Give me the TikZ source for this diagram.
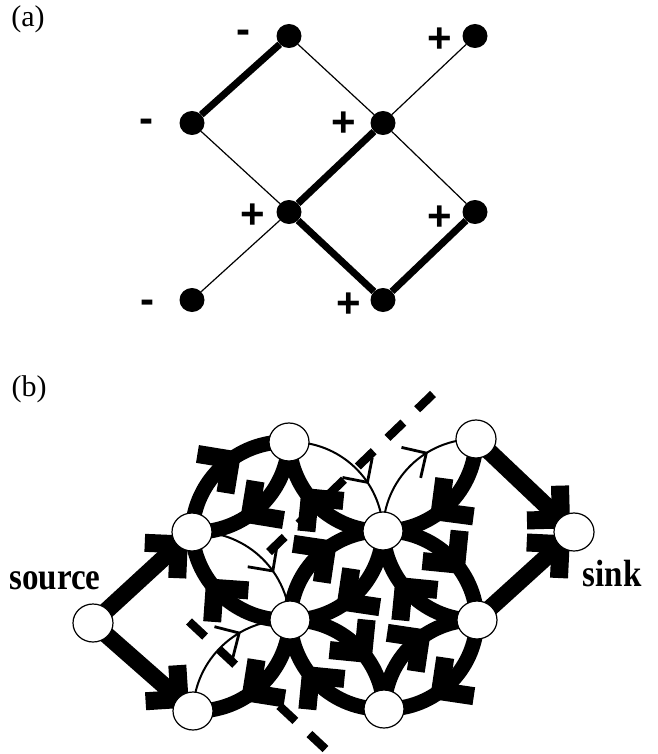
\documentclass[tikz,border=0pt]{standalone}
\usepackage{fontspec}
\usepackage{graphicx}
\setmainfont{Liberation Serif}
\newfontfamily\signfont{Liberation Sans}
\usetikzlibrary{decorations.markings,shapes.geometric}
\pgfdeclarelayer{bg}
\pgfsetlayers{bg,main}
\newcommand{\flowhead}{\draw[line width=18pt, line join=miter, line cap=butt] (-24pt,24pt) -- (0pt,0pt) -- (-24pt,-24pt);}
\newcommand{\thinhead}{\draw[line width=2.8pt, line join=miter, line cap=butt] (-18pt,18pt) -- (0pt,0pt) -- (-18pt,-18pt);}
\tikzset{
  adot/.style={ellipse, fill=black, minimum width=25pt, minimum height=24pt, inner sep=0pt},
  bnode/.style={ellipse, draw=black, line width=1.2pt, fill=white, minimum width=40pt, minimum height=38pt, inner sep=0pt},
  athick/.style={line width=7pt},
  athin/.style={line width=1.2pt},
  sign/.style={font=\signfont\bfseries\fontsize{42}{42}\selectfont, inner sep=0pt, anchor=base},
  lbl/.style={font=\bfseries\fontsize{33}{33}\selectfont, inner sep=0pt, anchor=base},
  plabel/.style={font=\fontsize{30}{30}\selectfont, inner sep=0pt},
  cutline/.style={line width=8.5pt, dash pattern=on 22pt off 19.2pt},
  sflow/.style={line width=17pt, postaction={decorate}, decoration={markings, mark=at position -18pt with {\flowhead}}},
  flow/.style={line width=15pt, postaction={decorate}, decoration={markings, mark=at position 0.58 with {\flowhead}}},
  thinflow/.style={line width=2pt, postaction={decorate}, decoration={markings, mark=at position 0.64 with {\thinhead}}}
}
\begin{document}
\begin{tikzpicture}[x=1pt,y=-1pt]
\useasboundingbox (0,0) rectangle (657,754);
% ---------- (a) ----------
\node[plabel] (la) at (28,19) {(a)};
\node[adot] (a1) at (289,36) {};
\node[adot] (a2) at (475,36) {};
\node[adot] (a3) at (192,123) {};
\node[adot] (a4) at (383,123) {};
\node[adot] (a5) at (289,212) {};
\node[adot] (a6) at (475,212) {};
\node[adot] (a7) at (192,300) {};
\node[adot] (a8) at (383,300) {};
\node[sign] (s1) at (243,44) {-};
\node[sign] (s2) at (440,53) {+};
\node[sign] (s3) at (146,133) {-};
\node[sign] (s4) at (344,137) {+};
\node[sign] (s5) at (253,228) {+};
\node[sign] (s6) at (440,230) {+};
\node[sign] (s7) at (147,313) {-};
\node[sign] (s8) at (349,317) {+};
% ---------- (b) ----------
\node[plabel] (lb) at (29,389) {(b)};
\node[bnode] (S) at (93,623) {};
\node[bnode] (A) at (192,532) {};
\node[bnode] (B) at (289,442) {};
\node[bnode] (C) at (383,531) {};
\node[bnode] (D) at (476,439) {};
\node[bnode] (T) at (574,532) {};
\node[bnode] (E) at (290,620) {};
\node[bnode] (F) at (193,711) {};
\node[bnode] (G) at (477,620) {};
\node[bnode] (H) at (384,709) {};
\node[lbl] (source) at (55,589) {\scalebox{1}[1.15]{source}};
\node[lbl] (sink) at (612,586) {\scalebox{1}[1.15]{sink}};
\coordinate (c1a) at (433,394);
\coordinate (c1b) at (269,552);
\coordinate (c2a) at (189,621.5);
\coordinate (c2b) at (326,749.5);
\begin{pgfonlayer}{bg}
  % (a) edges
  \draw[athick] (a1) -- (a3);
  \draw[athick] (a4) -- (a5);
  \draw[athick] (a5) -- (a8);
  \draw[athick] (a8) -- (a6);
  \draw[athin] (a1) -- (a4);
  \draw[athin] (a2) -- (a4);
  \draw[athin] (a3) -- (a5);
  \draw[athin] (a4) -- (a6);
  \draw[athin] (a5) -- (a7);
  % cut
  \draw[cutline] (c1a) -- (c1b);
  \draw[cutline] (c2a) -- (c2b);
  % straight flows
  \draw[sflow] (S.center) -- (A.center);
  \draw[sflow] (S.center) -- (F.center);
  \draw[sflow] (D.center) -- (T.center);
  \draw[sflow] (G.center) -- (T.center);
  % thin arcs
  \draw[thinflow] (A.center) to[bend left=45] (E.center);
  \draw[thinflow] (F.center) to[bend left=45] (E.center);
  \draw[thinflow] (B.center) to[bend left=45] (C.center);
  \draw[thinflow] (C.center) to[bend left=45] (D.center);
  % thick arcs
  \draw[flow] (A.center) to[bend left=45] (B.center);
  \draw[flow] (B.center) to[bend left=45] (A.center);
  \draw[flow] (E.center) to[bend left=45] (A.center);
  \draw[flow] (E.center) to[bend left=45] (F.center);
  \draw[flow] (C.center) to[bend left=45] (B.center);
  \draw[flow] (E.center) to[bend left=45] (C.center);
  \draw[flow] (C.center) to[bend left=45] (E.center);
  \draw[flow] (E.center) to[bend left=45] (H.center);
  \draw[flow] (H.center) to[bend left=45] (E.center);
  \draw[flow] (D.center) to[bend left=45] (C.center);
  \draw[flow] (C.center) to[bend left=45] (G.center);
  \draw[flow] (G.center) to[bend left=45] (C.center);
  \draw[flow] (H.center) to[bend left=45] (G.center);
  \draw[flow] (G.center) to[bend left=45] (H.center);
\end{pgfonlayer}
\end{tikzpicture}
\end{document}
